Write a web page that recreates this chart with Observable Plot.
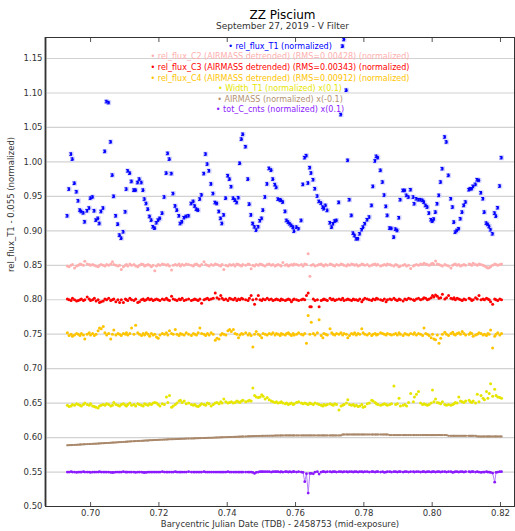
<!DOCTYPE html>
<html><head><meta charset="utf-8">
<script src="https://cdn.jsdelivr.net/npm/d3@7"></script>
<script src="https://cdn.jsdelivr.net/npm/@observablehq/plot@0.6"></script>
<style>
body{margin:0;background:#fff;font-family:"DejaVu Sans",sans-serif;}
#wrap{position:relative;width:515px;height:531px;}
#title{position:absolute;left:50px;right:0;top:9px;text-align:center;font-size:12px;line-height:12px;color:#000;}
#sub{position:absolute;left:50px;right:0;top:22px;text-align:center;font-size:9px;line-height:9px;color:#333;}
#chart{position:absolute;left:0;top:36px;}
</style></head><body>
<div id="wrap"><div id="title">ZZ Piscium</div><div id="sub">September 27, 2019 - V Filter</div><div id="chart"></div></div>
<script>
const times = [
0.6932,0.6937,0.6943,0.6947,0.6953,0.6959,0.6964,0.6969,0.6973,0.6979,
0.6983,0.6990,0.6996,0.7000,0.7006,0.7011,0.7016,0.7022,0.7026,0.7031,
0.7037,0.7042,0.7047,0.7053,0.7059,0.7064,0.7068,0.7074,0.7080,0.7085,
0.7090,0.7096,0.7102,0.7105,0.7109,0.7115,0.7120,0.7127,0.7132,0.7138,
0.7143,0.7149,0.7154,0.7158,0.7163,0.7168,0.7173,0.7178,0.7183,0.7188,
0.7193,0.7198,0.7203,0.7210,0.7216,0.7222,0.7226,0.7231,0.7237,0.7242,
0.7248,0.7253,0.7259,0.7263,0.7268,0.7274,0.7280,0.7287,0.7295,0.7301,
0.7305,0.7310,0.7315,0.7320,0.7325,0.7332,0.7337,0.7342,0.7347,0.7353,
0.7359,0.7365,0.7370,0.7376,0.7381,0.7385,0.7390,0.7396,0.7402,0.7407,
0.7412,0.7418,0.7423,0.7428,0.7433,0.7437,0.7442,0.7446,0.7454,0.7461,
0.7465,0.7470,0.7475,0.7480,0.7485,0.7491,0.7496,0.7501,0.7505,0.7511,
0.7517,0.7523,0.7529,0.7534,0.7540,0.7544,0.7549,0.7555,0.7558,0.7563,
0.7570,0.7574,0.7579,0.7583,0.7588,0.7593,0.7596,0.7603,0.7609,0.7617,
0.7622,0.7627,0.7632,0.7637,0.7642,0.7646,0.7652,0.7657,0.7664,0.7669,
0.7675,0.7680,0.7683,0.7688,0.7693,0.7701,0.7706,0.7710,0.7715,0.7720,
0.7727,0.7733,0.7738,0.7742,0.7749,0.7753,0.7758,0.7764,0.7769,0.7773,
0.7778,0.7783,0.7788,0.7794,0.7798,0.7803,0.7810,0.7816,0.7823,0.7827,
0.7833,0.7837,0.7841,0.7849,0.7855,0.7860,0.7865,0.7869,0.7876,0.7881,
0.7888,0.7893,0.7898,0.7903,0.7907,0.7915,0.7920,0.7925,0.7931,0.7937,
0.7945,0.7948,0.7954,0.7960,0.7966,0.7972,0.7976,0.7981,0.7986,0.7991,
0.7997,0.8001,0.8005,0.8010,0.8015,0.8020,0.8025,0.8030,0.8037,0.8042,
0.8048,0.8055,0.8060,0.8064,0.8068,0.8073,0.8078,0.8083,0.8088,0.8093,
0.8098,0.8108,0.8112,0.8116,0.8120,0.8127,0.8132,0.8137,0.8143,0.8149,
0.8153,0.8159,0.8163,0.8167,0.8171,0.8177,0.8183,0.8187,0.8192,0.8198,
0.8203];

const relFluxT1 = [
0.9217,0.9605,1.0113,1.004,0.969,0.9566,0.9435,0.930,0.928,0.926,
0.913,0.929,0.933,0.9474,0.949,0.929,0.9155,0.918,0.9106,0.928,
0.933,1.0152,1.0875,1.0860,1.029,0.9808,0.950,0.9217,0.9096,0.8937,
0.8893,0.8985,0.9275,0.9605,0.987,0.9837,0.9716,0.959,0.959,0.970,
0.975,0.970,0.959,0.946,0.9396,0.9314,0.9208,0.9155,0.9058,0.9038,
0.9116,0.9155,0.918,0.9256,0.949,0.9837,1.0123,1.004,0.983,0.954,
0.936,0.930,0.9217,0.9106,0.913,0.919,0.9208,0.9217,0.9396,0.9426,
0.936,0.9314,0.930,0.946,0.952,0.983,1.0113,0.9968,0.987,0.968,
0.954,0.941,0.9396,0.928,0.918,0.9106,0.923,0.9474,0.980,0.975,
0.964,0.9474,0.9445,0.941,0.948,0.998,1.033,1.040,1.022,0.975,
0.9387,0.923,0.9106,0.9058,0.901,0.9058,0.9145,0.918,0.930,0.949,
0.968,0.9905,0.988,0.975,0.967,0.963,0.946,0.945,0.9441,0.9417,
0.9281,0.9150,0.9126,0.9102,0.9078,0.9053,0.8995,0.9053,0.9029,0.9150,
0.9673,1.0061,1.0090,0.9693,0.9916,0.9838,0.9741,0.9610,0.9504,0.9426,
0.9402,0.9344,0.9320,0.9368,0.9296,0.9116,0.9053,0.9102,0.9140,0.9150,
0.9412,1.0686,1.1679,1.1776,1.1040,1.0022,0.9451,0.9223,0.8966,0.8932,
0.8884,0.8884,0.8956,0.9015,0.9053,0.9102,0.9160,0.9199,0.9368,0.9644,
1.0013,1.0080,1.0061,0.9877,0.9707,0.9518,0.9354,0.9223,0.9039,0.9034,
0.8908,0.9024,0.9005,0.9189,0.9451,0.9586,0.9586,0.9514,0.9489,0.9596,
0.9489,0.9392,0.9465,0.9451,0.9451,0.9441,0.9417,0.9368,0.9344,0.9257,
0.9160,0.9140,0.9170,0.9271,0.9392,0.9514,0.9707,0.9901,1.0361,1.0289,
0.9804,0.9465,0.9344,0.9126,0.8981,0.9005,0.9029,0.9174,0.9271,0.9368,
0.9417,0.9596,0.9610,0.9610,0.9644,0.9673,0.9741,0.9732,0.9552,0.9465,
0.9271,0.9111,0.9092,0.9063,0.9015,0.8956,0.9257,0.9213,0.9334,0.9649,
1.0061];
const relFluxT1Err = 0.0018;

const relFluxC2 = [
0.849,0.848,0.850,0.851,0.846,0.849,0.850,0.852,0.851,0.850,
0.856,0.852,0.851,0.850,0.851,0.850,0.849,0.848,0.850,0.851,
0.850,0.849,0.851,0.850,0.852,0.855,0.851,0.850,0.849,0.850,
0.844,0.848,0.850,0.851,0.849,0.852,0.850,0.851,0.849,0.848,
0.850,0.852,0.851,0.849,0.850,0.851,0.850,0.848,0.850,0.842,
0.849,0.851,0.850,0.852,0.851,0.850,0.851,0.849,0.843,0.850,
0.851,0.850,0.852,0.849,0.851,0.850,0.852,0.851,0.850,0.849,
0.851,0.852,0.850,0.849,0.851,0.855,0.851,0.850,0.849,0.851,
0.850,0.852,0.851,0.850,0.849,0.851,0.844,0.850,0.849,0.851,
0.850,0.851,0.849,0.852,0.851,0.850,0.849,0.851,0.850,0.852,
0.851,0.845,0.850,0.849,0.851,0.850,0.852,0.851,0.850,0.849,
0.851,0.852,0.850,0.851,0.849,0.850,0.851,0.850,0.849,0.854,
0.850,0.851,0.849,0.850,0.851,0.850,0.852,0.851,0.850,0.851,
0.849,0.852,0.851,0.8666,0.834,0.850,0.851,0.849,0.850,0.851,
0.852,0.850,0.849,0.851,0.850,0.852,0.851,0.850,0.849,0.851,
0.850,0.852,0.851,0.850,0.849,0.851,0.850,0.852,0.851,0.850,
0.851,0.849,0.850,0.852,0.851,0.850,0.851,0.849,0.850,0.851,
0.852,0.850,0.851,0.849,0.850,0.851,0.850,0.852,0.851,0.850,
0.849,0.851,0.850,0.848,0.849,0.850,0.851,0.849,0.850,0.8455,
0.849,0.850,0.851,0.850,0.852,0.851,0.853,0.852,0.851,0.850,
0.852,0.853,0.851,0.8562,0.852,0.851,0.850,0.849,0.851,0.850,
0.849,0.846,0.850,0.851,0.852,0.850,0.851,0.849,0.850,0.851,
0.850,0.852,0.851,0.850,0.853,0.851,0.850,0.852,0.851,0.850,
0.849,0.847,0.846,0.8465,0.848,0.850,0.852,0.851,0.850,0.851,
0.852];

const relFluxC3 = [
0.801,0.800,0.799,0.802,0.800,0.798,0.799,0.800,0.801,0.799,
0.800,0.804,0.801,0.799,0.800,0.802,0.798,0.800,0.796,0.797,
0.798,0.801,0.800,0.802,0.799,0.800,0.801,0.797,0.800,0.796,
0.800,0.796,0.801,0.800,0.799,0.802,0.800,0.799,0.801,0.796,
0.797,0.800,0.801,0.799,0.800,0.802,0.800,0.801,0.799,0.800,
0.801,0.800,0.799,0.801,0.800,0.802,0.800,0.799,0.805,0.801,
0.800,0.799,0.801,0.800,0.802,0.799,0.800,0.801,0.799,0.800,
0.801,0.800,0.799,0.801,0.795,0.800,0.801,0.802,0.800,0.801,
0.802,0.8096,0.803,0.801,0.806,0.802,0.800,0.801,0.799,0.802,
0.801,0.800,0.802,0.799,0.801,0.800,0.802,0.801,0.800,0.799,
0.802,0.806,0.800,0.7935,0.801,0.806,0.800,0.799,0.801,0.800,
0.802,0.800,0.801,0.799,0.800,0.801,0.800,0.799,0.801,0.800,
0.799,0.800,0.801,0.800,0.797,0.800,0.801,0.800,0.799,0.800,
0.801,0.800,0.806,0.8097,0.790,0.790,0.801,0.799,0.800,0.790,
0.799,0.800,0.801,0.800,0.799,0.802,0.800,0.801,0.799,0.800,
0.801,0.800,0.802,0.799,0.800,0.801,0.800,0.799,0.801,0.800,
0.800,0.799,0.801,0.797,0.800,0.802,0.801,0.800,0.799,0.801,
0.800,0.802,0.801,0.800,0.799,0.801,0.797,0.800,0.801,0.800,
0.802,0.800,0.799,0.801,0.800,0.798,0.801,0.800,0.802,0.801,
0.800,0.799,0.801,0.802,0.800,0.801,0.803,0.802,0.800,0.801,
0.803,0.806,0.804,0.807,0.805,0.802,0.803,0.808,0.801,0.803,
0.806,0.802,0.801,0.803,0.800,0.802,0.801,0.800,0.799,0.801,
0.800,0.802,0.801,0.799,0.800,0.803,0.801,0.806,0.800,0.801,
0.800,0.802,0.801,0.800,0.797,0.7935,0.801,0.800,0.799,0.801,
0.800];

const relFluxC4 = [
0.752,0.748,0.750,0.747,0.749,0.751,0.750,0.748,0.751,0.749,
0.743,0.750,0.752,0.749,0.751,0.748,0.750,0.755,0.759,0.758,
0.761,0.752,0.749,0.751,0.743,0.750,0.756,0.749,0.751,0.750,
0.748,0.751,0.750,0.752,0.749,0.751,0.759,0.750,0.763,0.752,
0.750,0.748,0.751,0.749,0.752,0.750,0.747,0.751,0.749,0.750,
0.746,0.744,0.749,0.751,0.750,0.752,0.749,0.755,0.751,0.750,
0.757,0.750,0.748,0.751,0.750,0.749,0.752,0.750,0.748,0.751,
0.750,0.749,0.752,0.759,0.751,0.750,0.748,0.751,0.749,0.752,
0.750,0.7413,0.744,0.743,0.749,0.751,0.750,0.749,0.755,0.757,
0.754,0.757,0.751,0.750,0.745,0.749,0.751,0.750,0.752,0.749,
0.751,0.748,0.7316,0.750,0.754,0.750,0.748,0.745,0.751,0.750,
0.749,0.751,0.750,0.752,0.749,0.751,0.750,0.748,0.751,0.750,
0.749,0.751,0.752,0.750,0.748,0.751,0.749,0.750,0.752,0.750,
0.749,0.751,0.7369,0.777,0.750,0.7674,0.751,0.749,0.752,0.771,
0.748,0.745,0.751,0.750,0.749,0.758,0.752,0.750,0.749,0.751,
0.750,0.752,0.749,0.751,0.750,0.745,0.748,0.751,0.750,0.752,
0.749,0.751,0.750,0.758,0.752,0.750,0.749,0.751,0.748,0.750,
0.751,0.749,0.750,0.752,0.751,0.750,0.749,0.751,0.750,0.749,
0.750,0.751,0.749,0.752,0.750,0.748,0.751,0.750,0.749,0.751,
0.750,0.752,0.749,0.751,0.750,0.748,0.759,0.751,0.750,0.748,
0.745,0.750,0.743,0.742,0.749,0.737,0.744,0.750,0.753,0.750,
0.748,0.751,0.753,0.750,0.749,0.751,0.752,0.750,0.754,0.751,
0.749,0.750,0.752,0.751,0.747,0.749,0.750,0.752,0.751,0.749,
0.750,0.748,0.751,0.750,0.756,0.730,0.747,0.750,0.752,0.749,
0.751];

const widthT1 = [
0.647,0.645,0.646,0.648,0.647,0.649,0.648,0.647,0.646,0.648,
0.650,0.648,0.647,0.649,0.646,0.645,0.644,0.643,0.646,0.647,
0.648,0.647,0.649,0.648,0.646,0.647,0.651,0.648,0.647,0.646,
0.648,0.649,0.647,0.646,0.648,0.650,0.647,0.648,0.646,0.649,
0.648,0.647,0.646,0.649,0.648,0.647,0.649,0.648,0.650,0.651,
0.650,0.648,0.646,0.649,0.648,0.659,0.651,0.661,0.644,0.646,
0.648,0.650,0.653,0.654,0.651,0.653,0.649,0.650,0.648,0.647,
0.648,0.646,0.645,0.647,0.649,0.648,0.647,0.650,0.649,0.646,
0.648,0.650,0.651,0.649,0.652,0.650,0.656,0.652,0.650,0.651,
0.652,0.650,0.651,0.653,0.652,0.651,0.653,0.654,0.652,0.653,
0.654,0.653,0.672,0.661,0.659,0.658,0.659,0.662,0.660,0.656,
0.658,0.655,0.653,0.652,0.651,0.652,0.650,0.651,0.652,0.650,
0.649,0.650,0.648,0.649,0.650,0.648,0.649,0.651,0.652,0.650,
0.649,0.650,0.649,0.648,0.650,0.649,0.648,0.650,0.649,0.648,
0.647,0.646,0.648,0.647,0.648,0.649,0.648,0.647,0.649,0.648,
0.640,0.646,0.647,0.648,0.650,0.655,0.648,0.647,0.648,0.646,
0.647,0.645,0.646,0.648,0.644,0.645,0.649,0.650,0.654,0.653,
0.651,0.649,0.648,0.647,0.648,0.649,0.648,0.647,0.648,0.649,
0.675,0.648,0.649,0.657,0.646,0.647,0.648,0.646,0.651,0.664,
0.652,0.659,0.663,0.667,0.650,0.648,0.649,0.648,0.647,0.648,
0.650,0.669,0.652,0.656,0.651,0.650,0.649,0.652,0.648,0.647,
0.648,0.647,0.648,0.649,0.651,0.650,0.659,0.653,0.652,0.651,
0.653,0.654,0.652,0.651,0.653,0.650,0.663,0.652,0.661,0.657,
0.655,0.667,0.657,0.664,0.678,0.660,0.670,0.661,0.659,0.658,
0.657];

const airmass = [
0.5888,0.5890,0.5891,0.5893,0.5894,0.5896,0.5897,0.5899,0.5900,0.5902,
0.5903,0.5905,0.5906,0.5908,0.5909,0.5911,0.5912,0.5914,0.5915,0.5917,
0.5918,0.5920,0.5921,0.5923,0.5925,0.5927,0.5928,0.5930,0.5932,0.5934,
0.5935,0.5937,0.5939,0.5940,0.5942,0.5944,0.5945,0.5947,0.5949,0.5950,
0.5952,0.5953,0.5955,0.5956,0.5958,0.5959,0.5961,0.5962,0.5963,0.5965,
0.5966,0.5967,0.5969,0.5970,0.5971,0.5972,0.5974,0.5975,0.5976,0.5977,
0.5978,0.5979,0.5981,0.5982,0.5983,0.5984,0.5985,0.5986,0.5987,0.5988,
0.5989,0.5990,0.5991,0.5992,0.5993,0.5994,0.5995,0.5996,0.5997,0.5998,
0.5999,0.6000,0.6001,0.6002,0.6003,0.6004,0.6005,0.6006,0.6007,0.6008,
0.6009,0.6010,0.6011,0.6012,0.6013,0.6014,0.6015,0.6016,0.6017,0.6018,
0.6019,0.6020,0.6021,0.6022,0.6023,0.6024,0.6025,0.6025,0.6026,0.6026,
0.6027,0.6027,0.6028,0.6028,0.6029,0.6029,0.6030,0.6030,0.6031,0.6031,
0.6032,0.6032,0.6032,0.6032,0.6032,0.6032,0.6032,0.6032,0.6032,0.6032,
0.6032,0.6032,0.6032,0.6032,0.6032,0.6032,0.6032,0.6032,0.6032,0.6032,
0.6032,0.6032,0.6032,0.6032,0.6032,0.6032,0.6032,0.6032,0.6032,0.6032,
0.6032,0.6032,0.6045,0.6045,0.6045,0.6045,0.6045,0.6045,0.6045,0.6045,
0.6045,0.6045,0.6045,0.6045,0.6045,0.6045,0.6045,0.6045,0.6045,0.6045,
0.6045,0.6045,0.6045,0.6045,0.6045,0.6045,0.6045,0.6045,0.6036,0.6036,
0.6036,0.6036,0.6036,0.6036,0.6036,0.6036,0.6036,0.6036,0.6036,0.6036,
0.6036,0.6036,0.6036,0.6036,0.6036,0.6036,0.6036,0.6036,0.6036,0.6036,
0.6036,0.6036,0.6036,0.6036,0.6036,0.6036,0.6036,0.6036,0.6036,0.6036,
0.6026,0.6026,0.6026,0.6026,0.6026,0.6026,0.6026,0.6026,0.6026,0.6026,
0.6026,0.6026,0.6026,0.6026,0.6026,0.6026,0.6017,0.6017,0.6017,0.6017,
0.6017,0.6017,0.6017,0.6017,0.6017,0.6017,0.6017,0.6017,0.6017,0.6017,
0.6017];

const totCCnts = [
0.550,0.550,0.5505,0.550,0.550,0.5495,0.550,0.550,0.550,0.5505,
0.550,0.550,0.550,0.5495,0.550,0.550,0.550,0.550,0.5505,0.550,
0.550,0.550,0.550,0.550,0.5495,0.5493,0.5495,0.550,0.550,0.550,
0.550,0.5505,0.550,0.550,0.550,0.550,0.550,0.550,0.5495,0.550,
0.550,0.550,0.5495,0.5493,0.5495,0.550,0.550,0.550,0.550,0.550,
0.550,0.550,0.550,0.5505,0.550,0.550,0.550,0.550,0.550,0.550,
0.5505,0.550,0.550,0.550,0.550,0.550,0.550,0.5505,0.550,0.550,
0.550,0.550,0.550,0.550,0.550,0.5505,0.550,0.550,0.550,0.550,
0.550,0.550,0.550,0.550,0.550,0.550,0.550,0.550,0.5505,0.550,
0.550,0.550,0.550,0.550,0.550,0.550,0.550,0.550,0.550,0.550,
0.550,0.550,0.5495,0.548,0.5495,0.550,0.5505,0.5505,0.5505,0.5505,
0.5505,0.5505,0.550,0.5505,0.5505,0.5505,0.5505,0.550,0.5505,0.550,
0.5505,0.5505,0.550,0.5505,0.550,0.5505,0.5505,0.550,0.5505,0.550,
0.5495,0.536,0.5475,0.5195,0.548,0.548,0.5475,0.550,0.5505,0.547,
0.550,0.5505,0.5505,0.550,0.5505,0.5505,0.550,0.5505,0.5505,0.550,
0.5505,0.5505,0.550,0.5505,0.5505,0.550,0.5505,0.5505,0.550,0.5505,
0.5505,0.550,0.5505,0.5505,0.550,0.5505,0.5505,0.550,0.5505,0.5505,
0.550,0.5505,0.5505,0.550,0.5505,0.5495,0.550,0.5505,0.5505,0.550,
0.5505,0.5505,0.550,0.5505,0.5505,0.550,0.5505,0.5505,0.550,0.5505,
0.5505,0.550,0.5505,0.5505,0.550,0.5505,0.5505,0.550,0.5505,0.5505,
0.550,0.5505,0.5505,0.550,0.5505,0.5505,0.550,0.5505,0.5505,0.550,
0.5505,0.5505,0.5495,0.550,0.5505,0.5505,0.550,0.5505,0.5505,0.550,
0.5505,0.5505,0.550,0.5505,0.5505,0.550,0.5505,0.550,0.5495,0.550,
0.550,0.5505,0.550,0.550,0.5495,0.5485,0.5353,0.5495,0.550,0.5505,
0.5505];

const legendLabels = [
"\u2022 rel_flux_T1 (normalized)",
"\u2022 rel_flux_C2 (AIRMASS detrended) (RMS=0.00428) (normalized)",
"\u2022 rel_flux_C3 (AIRMASS detrended) (RMS=0.00343) (normalized)",
"\u2022 rel_flux_C4 (AIRMASS detrended) (RMS=0.00912) (normalized)",
"\u2022 Width_T1 (normalized) x(0.1)",
"\u2022 AIRMASS (normalized) x(-0.1)",
"\u2022 tot_C_cnts (normalized) x(0.1)"];
const legendColors = ["#0000ff","#ffafaf","#ff0000","#ffc400","#e6e600","#b39272","#8c1aff"];
const yTicks = [0.50,0.55,0.60,0.65,0.70,0.75,0.80,0.85,0.90,0.95,1.00,1.05,1.10,1.15];
const xTicks = [0.70,0.72,0.74,0.76,0.78,0.80,0.82];
const yLabel = "rel_flux_T1 - 0.055 (normalized)";
const xLabel = "Barycentric Julian Date (TDB) - 2458753 (mid-exposure)";
const xDomain = [0.6868, 0.8241];
const yDomain = [0.50, 1.1805];

const series = [relFluxT1, relFluxC2, relFluxC3, relFluxC4, widthT1, airmass, totCCnts];
series.forEach((s, k) => { if (s.length !== times.length) throw new Error("length mismatch series " + k + ": " + s.length + " vs " + times.length); });

const rows = times.map((t, i) => ({
  t, t1: relFluxT1[i], c2: relFluxC2[i], c3: relFluxC3[i], c4: relFluxC4[i],
  w: widthT1[i], am: airmass[i], cnt: totCCnts[i]
}));
const capHalf = 0.0004;
const fmt = d3.format(".2f");

const legendMarks = legendLabels.map((txt, i) => Plot.text([txt], {
  text: d => d, frameAnchor: "top", lineAnchor: "middle", dy: 8.7 + i * 10.6, fill: legendColors[i], fontSize: 8
}));

const chart = Plot.plot({
  width: 515, height: 495,
  marginLeft: 45, marginRight: 1, marginTop: 1, marginBottom: 25,
  style: {fontFamily: "DejaVu Sans, sans-serif", background: "#fff"},
  x: {domain: xDomain},
  y: {domain: yDomain},
  marks: [
    Plot.ruleY(yTicks, {stroke: "#d2d2d2", strokeWidth: 1.2}),
    Plot.axisY(yTicks, {tickSize: 0, tickPadding: 3, tickFormat: fmt, fontSize: 8.5, fill: "#333", label: null}),
    Plot.axisX(xTicks, {tickSize: 0, tickPadding: 3, tickFormat: fmt, fontSize: 8.5, fill: "#333", label: null}),
    Plot.axisX(xTicks, {anchor: "bottom", tickSize: -4, fill: "none", label: null, stroke: "#555"}),
    Plot.axisX(xTicks, {anchor: "top", tickSize: -4, fill: "none", label: null, stroke: "#555"}),
    Plot.text([yLabel], {text: d => d, frameAnchor: "left", rotate: -90, dx: -34, fontSize: 8.5, fill: "#333"}),
    Plot.text([xLabel], {text: d => d, frameAnchor: "bottom", lineAnchor: "middle", dy: 18, fontSize: 8.5, fill: "#333"}),
    ...legendMarks,
    Plot.line(rows, {x: "t", y: "am", stroke: "#b39272", strokeWidth: 1.5}),
    Plot.dot(rows, {x: "t", y: "am", fill: "#a8876a", r: 1.1, symbol: "square"}),
    Plot.line(rows, {x: "t", y: "cnt", stroke: "#b580ff", strokeWidth: 1}),
    Plot.dot(rows, {x: "t", y: "cnt", fill: "#8c1aff", r: 1.4}),
    Plot.dot(rows, {x: "t", y: "w", fill: "#e6e600", r: 1.5}),
    Plot.dot(rows, {x: "t", y: "c4", fill: "#ffc400", r: 1.5}),
    Plot.dot(rows, {x: "t", y: "c3", fill: "#ff0000", r: 1.5}),
    Plot.dot(rows, {x: "t", y: "c2", fill: "#ffafaf", r: 1.5}),
    Plot.dot(rows, {x: "t", y: "t1", fill: "#d4d4ff", r: 2.8, symbol: "square"}),
    Plot.ruleX(rows, {x: "t", y1: d => d.t1 - relFluxT1Err, y2: d => d.t1 + relFluxT1Err, stroke: "#0000ff", strokeWidth: 1}),
    Plot.ruleY(rows, {y: d => d.t1 - relFluxT1Err, x1: d => d.t - capHalf, x2: d => d.t + capHalf, stroke: "#0000ff", strokeWidth: 1}),
    Plot.ruleY(rows, {y: d => d.t1 + relFluxT1Err, x1: d => d.t - capHalf, x2: d => d.t + capHalf, stroke: "#0000ff", strokeWidth: 1}),
    Plot.dot(rows, {x: "t", y: "t1", fill: "#0000ff", r: 1.2}),
    Plot.ruleX([xDomain[0]], {stroke: "#8a8a8a", strokeWidth: 2.5}),
    Plot.frame({stroke: "#333"})
  ]
});
document.getElementById("chart").appendChild(chart);
</script>
</body></html>
